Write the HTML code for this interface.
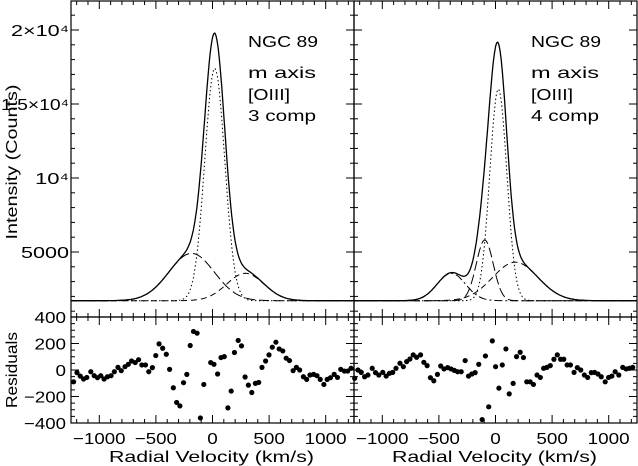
<!DOCTYPE html>
<html><head><meta charset="utf-8"><style>
html,body{margin:0;padding:0;background:#fff;}
svg{display:block;font-family:"Liberation Sans",sans-serif;}
</style></head><body>
<svg id="chart" width="638" height="466" viewBox="0 0 638 466" xmlns="http://www.w3.org/2000/svg"></svg>
<script>
// ---- data ----
const baseline = 1710;
// left panel (3 components): amplitude, center, sigma
const leftAmps = [15700, 3200, 1850];
const leftCenters = [20, -185, 290];
const leftSigmas = [88, 200, 165];
const leftDash = ["1.5,2.5", "10,4", "6,4"];
// right panel (4 components)
const rightAmps = [14300, 4100, 1850, 2600];
const rightCenters = [25, -95, -390, 175];
const rightSigmas = [75, 75, 125, 200];
const rightDash = ["1.5,2.5", "10,4", "8,3,2,3", "6,4"];
const leftResV = [-1227,-1197,-1168,-1139,-1110,-1075,-1045,-1016,-987,-958,-928,-896,-867,-835,-806,-773,-744,-715,-683,-653,-624,-592,-563,-531,-501,-472,-440,-408,-379,-346,-317,-288,-256,-227,-197,-168,-136,-107,-77,-16,13,45,75,104,136,165,194,227,256,288,317,347,379,408,437,469,499,528,560,589,621,651,680,712,741,770,803,832,861,893,923,952,984,1013,1042,1075,1104,1133,1165,1194,1224];
const leftResR = [-89,-20,-46,-68,-56,-13,-43,-58,-43,-68,-51,-43,-13,20,-5,25,43,68,56,78,38,38,-13,18,109,197,164,119,5,-134,-245,-271,-96,-33,185,291,278,-362,-109,56,43,-30,94,101,-286,-159,132,223,182,-53,-114,-170,-101,-94,20,68,114,172,210,159,144,89,71,-5,20,0,-51,-71,-38,-33,-43,-71,-109,-71,-58,-33,-56,5,-8,-8,13];
const rightResV = [-1244,-1215,-1186,-1156,-1127,-1089,-1060,-1031,-996,-966,-937,-908,-879,-844,-814,-785,-756,-727,-697,-662,-633,-604,-575,-545,-513,-484,-455,-423,-393,-364,-335,-303,-268,-238,-209,-180,-148,-118,-89,-60,-28,1,30,60,92,121,156,186,218,247,276,306,335,367,396,425,454,484,516,546,575,603,633,662,694,723,753,785,814,846,875,905,934,969,999,1028,1057,1089,1124,1154,1183,1212];
const rightResR = [-63,0,-18,-51,-38,13,-20,-38,-18,-46,-25,-18,13,51,25,63,83,114,96,114,58,33,-58,-81,-33,30,8,18,8,-3,-13,-13,71,-46,-30,-20,43,-374,106,-278,220,25,-137,38,159,-180,-101,101,134,94,-89,-89,-109,-38,-56,13,20,33,81,114,81,81,38,38,-18,18,0,-38,-56,-20,-18,-30,-51,-89,-56,-46,-13,-38,20,8,13,20];
const xTicks = [-1000, -500, 0, 500, 1000];
const yTicksTop = [5000, 10000, 15000, 20000];
const yTickLabelsTop = ["5000", "10⁴", "1.5×10⁴", "2×10⁴"];
const yTicksRes = [-400, -200, 0, 200, 400];

const NS = "http://www.w3.org/2000/svg";
const svg = document.getElementById('chart');
function el(tag, attrs, parent) {
  const e = document.createElementNS(NS, tag);
  for (const k in attrs) e.setAttribute(k, attrs[k]);
  (parent || svg).appendChild(e);
  return e;
}
function fit(t, len) {
  t.setAttribute('textLength', len);
  t.setAttribute('lengthAdjust', 'spacingAndGlyphs');
}
const panels = [
  {x0: 71, x1: 354, amps: leftAmps, cen: leftCenters, sig: leftSigmas, dash: leftDash, rv: leftResV, rr: leftResR, label: "3 comp", name: "left"},
  {x0: 354, x1: 637, amps: rightAmps, cen: rightCenters, sig: rightSigmas, dash: rightDash, rv: rightResV, rr: rightResR, label: "4 comp", name: "right"}
];
const topY0 = 1, topY1 = 317, resY0 = 317, resY1 = 423;
const yTop = I => 178 - (I - 10000) * 0.0148;
const yRes = r => 370 - r * (53 / 400);

panels.forEach(p => {
  const xs = v => p.x0 + (v + 1250) / 2500 * (p.x1 - p.x0);
  const g = el('g', {});
  
  
  const f1 = el('rect', {x: p.x0, y: topY0, width: p.x1 - p.x0, height: topY1 - topY0, fill: 'none', stroke: '#000', 'stroke-width': 1.2}, g);
  
  
  const f2 = el('rect', {x: p.x0, y: resY0, width: p.x1 - p.x0, height: resY1 - resY0, fill: 'none', stroke: '#000', 'stroke-width': 1.2}, g);
  
  
  for (let v = -1200; v <= 1200; v += 100) {
    const x = xs(v), L = (v % 500 === 0) ? 8 : 4;
    [[topY0, 1], [topY1, -1], [resY0, 1], [resY1, -1]].forEach(([y, d]) => {
      el('line', {x1: x, x2: x, y1: y, y2: y + d * L, stroke: '#000', 'stroke-width': 1}, g);
    });
  }
  xTicks.forEach(v => {
    const t = el('text', {x: xs(v), y: 444, 'font-size': 16, 'text-anchor': 'middle'}, g);
    t.textContent = v < 0 ? '−' + (-v) : String(v);
    fit(t, t.textContent.length * 10.5);
    
    
  });
  for (let I = 1000; I <= 22000; I += 1000) {
    const y = yTop(I); if (y < topY0 || y > topY1) continue;
    const L = I % 5000 === 0 ? 8 : 4;
    el('line', {x1: p.x0, x2: p.x0 + L, y1: y, y2: y, stroke: '#000'}, g);
    el('line', {x1: p.x1, x2: p.x1 - L, y1: y, y2: y, stroke: '#000'}, g);
  }
  for (let r = -400; r <= 400; r += 50) {
    const y = yRes(r), L = r % 200 === 0 ? 8 : 4;
    el('line', {x1: p.x0, x2: p.x0 + L, y1: y, y2: y, stroke: '#000'}, g);
    el('line', {x1: p.x1, x2: p.x1 - L, y1: y, y2: y, stroke: '#000'}, g);
  }
  const comps = p.amps.map((a, i) => v => a * Math.exp(-Math.pow(v - p.cen[i], 2) / (2 * p.sig[i] * p.sig[i])));
  const vs = []; for (let v = -1250; v <= 1250; v += 10) vs.push(v);
  comps.forEach((c, i) => {
    const d = vs.map((v, j) => (j ? 'L' : 'M') + xs(v).toFixed(1) + ',' + yTop(baseline + c(v)).toFixed(1)).join('');
    const path = el('path', {d: d, fill: 'none', stroke: '#000', 'stroke-width': 1, 'stroke-dasharray': p.dash[i]}, g);
    
    
  });
  const dT = vs.map((v, j) => (j ? 'L' : 'M') + xs(v).toFixed(1) + ',' + yTop(baseline + comps.reduce((s, c) => s + c(v), 0)).toFixed(1)).join('');
  const tot = el('path', {d: dT, fill: 'none', stroke: '#000', 'stroke-width': 1.3}, g);
  
  
  p.rv.forEach((v, i) => {
    const c = el('circle', {cx: xs(v), cy: yRes(p.rr[i]), r: 2.6, fill: '#000'}, g);
    
    
  });
  ['NGC 89', 'm axis', '[OIII]', p.label].forEach((s, i) => {
    const t = el('text', {x: p.x0 + 177, y: [47, 78, 100, 121][i], 'font-size': 16}, g);
    t.textContent = s;
    fit(t, [70, 68, 42, 68][i]);
    
    
  });
  const xl = el('text', {x: (p.x0 + p.x1) / 2 - 1, y: 462, 'font-size': 16, 'text-anchor': 'middle'}, g);
  xl.textContent = 'Radial Velocity (km/s)';
  fit(xl, 205);
  
  
});
yTicksTop.forEach((I, i) => {
  const t = el('text', {x: 69, y: yTop(I) + 6, 'font-size': 16, 'text-anchor': 'end'});
  t.textContent = yTickLabelsTop[i];
  fit(t, [48, 34, 68, 58][i]);
  
  
});
yTicksRes.forEach(r => {
  const t = el('text', {x: 66, y: yRes(r) + 6, 'font-size': 16, 'text-anchor': 'end'});
  t.textContent = r < 0 ? '−' + (-r) : String(r);
  fit(t, t.textContent.length * 10.5);
  
  
});
const yl = el('text', {x: 0, y: 0, 'font-size': 16, 'text-anchor': 'middle', transform: 'translate(17,162) rotate(-90)'});
yl.textContent = 'Intensity (Counts)';
fit(yl, 155);


const rl = el('text', {x: 0, y: 0, 'font-size': 16, 'text-anchor': 'middle', transform: 'translate(17,370) rotate(-90)'});
rl.textContent = 'Residuals';
fit(rl, 76);


</script>
</body></html>
